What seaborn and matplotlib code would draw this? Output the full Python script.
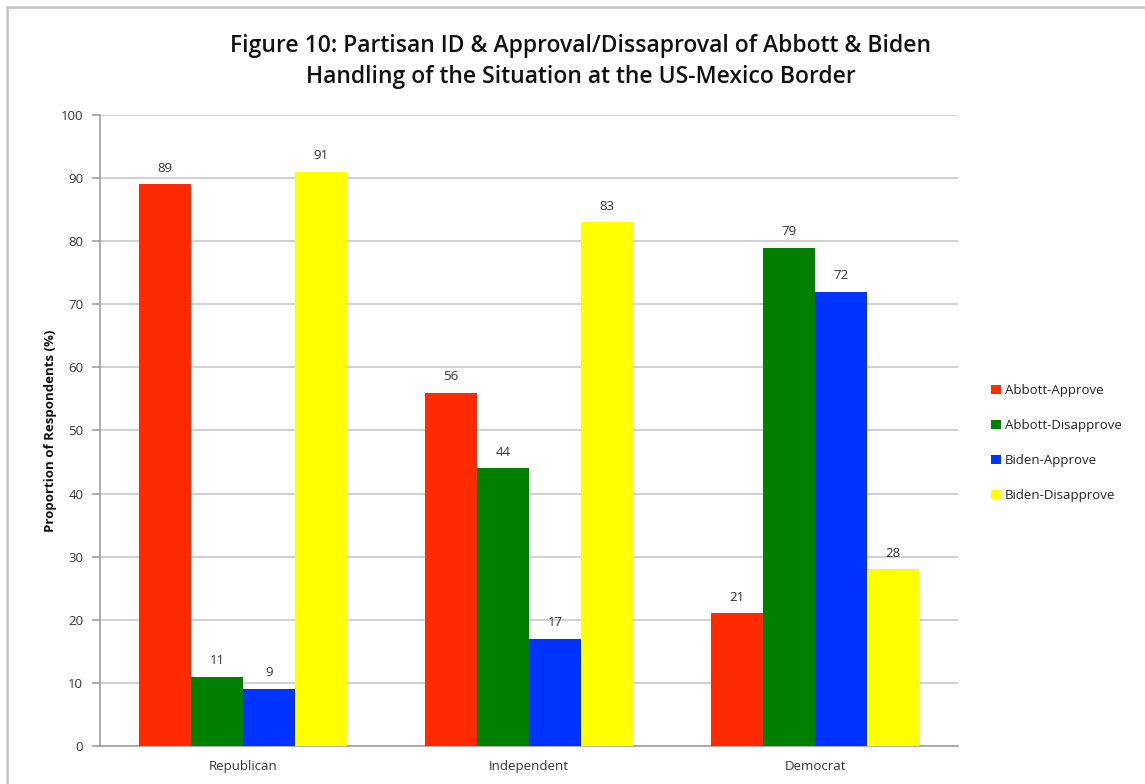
import matplotlib
matplotlib.use("Agg")
import matplotlib.pyplot as plt
from matplotlib.patches import Rectangle
import seaborn as sns
import pandas as pd

parties = ["Republican", "Independent", "Democrat"]
series = ["Abbott-Approve", "Abbott-Disapprove", "Biden-Approve", "Biden-Disapprove"]
abbott_approve = [89, 56, 21]
abbott_disapprove = [11, 44, 79]
biden_approve = [9, 17, 72]
biden_disapprove = [91, 83, 28]
colors = ["#FF2A00", "#008000", "#0033FF", "#FFFF00"]

values = [abbott_approve, abbott_disapprove, biden_approve, biden_disapprove]
rows = []
for s, vals in zip(series, values):
    for p, v in zip(parties, vals):
        rows.append({"party": p, "series": s, "value": v})
df = pd.DataFrame(rows)

sns.set_theme(style="white")
plt.rcParams["font.family"] = ["Open Sans", "DejaVu Sans"]

fig = plt.figure(figsize=(11.45, 7.84), dpi=100)
ax = fig.add_axes([0.0873, 0.0485, 0.7494, 0.8048])

sns.barplot(data=df, x="party", y="value", hue="series", order=parties,
            hue_order=series, palette=colors, width=0.73, saturation=1,
            errorbar=None, ax=ax, linewidth=0, zorder=3)

for container in ax.containers:
    ax.bar_label(container, labels=[f"{v:.0f}" for v in container.datavalues],
                 padding=7, fontsize=9.5, color="#333333")

ax.set_ylim(0, 100)
ax.set_yticks(range(0, 101, 10))
ax.set_xlim(-0.5, 2.5)
ax.grid(axis="y", color="#c8c8c8", linewidth=1.2, zorder=0)
ax.set_axisbelow(True)
for side in ["top", "right"]:
    ax.spines[side].set_visible(False)
ax.spines["left"].set_color("#a0a0a0")
ax.spines["bottom"].set_color("#a0a0a0")
ax.spines["left"].set_linewidth(1.2)
ax.spines["bottom"].set_linewidth(1.2)
ax.tick_params(axis="y", which="major", length=6, color="#a0a0a0", width=1.2,
               labelsize=9.5, labelcolor="#333333", left=True, pad=6)
ax.tick_params(axis="x", length=0, labelsize=9.5, labelcolor="#333333", pad=10)
ax.set_xlabel("")
ax.set_ylabel("Proportion of Respondents (%)", fontsize=9.5, fontweight="bold",
              color="#111111", labelpad=3)

handles, labels = ax.get_legend_handles_labels()
leg = ax.legend(handles, labels, loc="center left", bbox_to_anchor=(1.025, 0.48),
                frameon=False, fontsize=9.5, handlelength=0.7, handleheight=0.7,
                handletextpad=0.3, labelspacing=1.65, labelcolor="#222222")

fig.text(0.507, 0.922,
         "Figure 10: Partisan ID & Approval/Dissaproval of Abbott & Biden\n"
         "Handling of the Situation at the US-Mexico Border",
         ha="center", va="center", fontsize=16.5, fontweight="semibold",
         color="#111111", linespacing=1.4)

fig.patches.append(Rectangle((7 / 1145, -0.02), 1.05, 1 - 7 / 784 + 0.02,
                             transform=fig.transFigure, fill=False,
                             edgecolor="#c8c8c8", linewidth=2))

fig.savefig("out.png", dpi=100, facecolor="white")
